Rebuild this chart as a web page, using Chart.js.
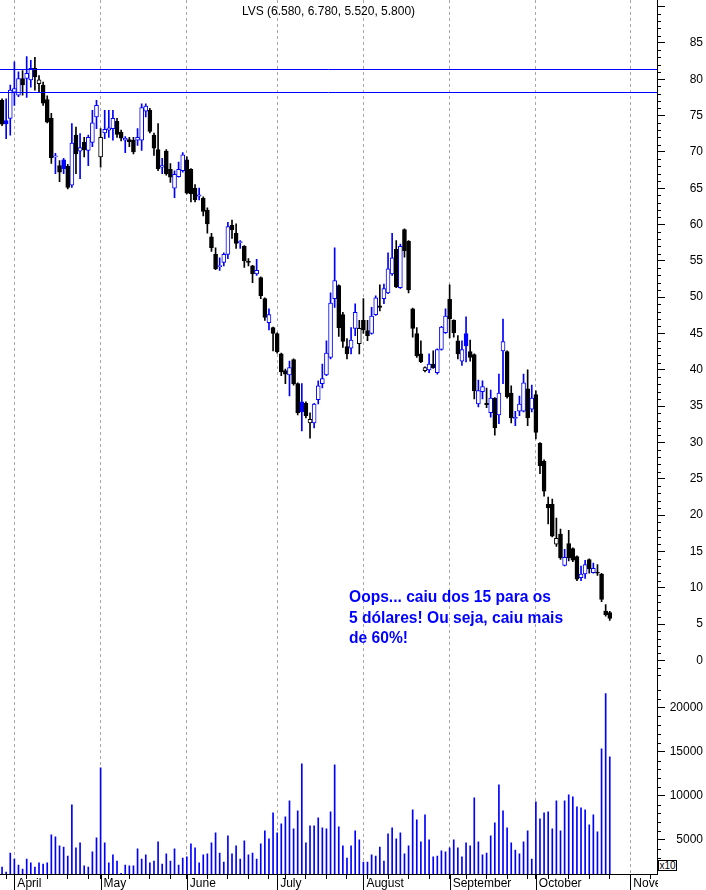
<!DOCTYPE html>
<html lang="pt">
<head>
<meta charset="utf-8">
<title>LVS</title>
<script src="https://cdn.jsdelivr.net/npm/chart.js@4.4.1/dist/chart.umd.min.js"></script>
<style>
  html, body { margin: 0; padding: 0; background: #fff; }
  #quadro { position: relative; width: 706px; height: 890px; overflow: hidden; }
  #grafico { position: absolute; left: 0; top: 0; }
  #titulo { position: absolute; left: 0; top: 4px; width: 657px; text-align: center;
            font: 12px/14px "Liberation Sans", Arial, sans-serif; color: #000; }
  #nota { position: absolute; left: 349px; top: 587px; color: #0000ff;
          font: bold 15.6px/20.5px "Liberation Sans", Arial, sans-serif; white-space: nowrap; }
  #escala { position: absolute; left: 658px; top: 860px; width: 19px; height: 11px; box-sizing: border-box;
            border: 1px solid #000; background: #fff; text-align: center;
            font: 10px/9px "Liberation Sans", Arial, sans-serif; color: #000; }
</style>
</head>
<body>
<div id="quadro">
  <canvas id="grafico" width="706" height="890"></canvas>
  <div id="titulo">LVS (6.580, 6.780, 5.520, 5.800)</div>
  <div id="nota">Oops... caiu dos 15 para os<br>5 dólares! Ou seja, caiu mais<br>de 60%!</div>
  <div id="escala">x10</div>
</div>
<script>
// ============================================
// Dados do gráfico (LVS, mar–out 2008)
// ============================================

// pregões de cada mês (o eixo continua até o começo de novembro)
const diasNegociacao = [
  ['2008-03', [28, 31]],
  ['2008-04', [1, 2, 3, 4, 7, 8, 9, 10, 11, 14, 15, 16, 17, 18, 21, 22, 23, 24, 25, 28, 29, 30]],
  ['2008-05', [1, 2, 5, 6, 7, 8, 9, 12, 13, 14, 15, 16, 19, 20, 21, 22, 23, 27, 28, 29, 30]],
  ['2008-06', [2, 3, 4, 5, 6, 9, 10, 11, 12, 13, 16, 17, 18, 19, 20, 23, 24, 25, 26, 27, 30]],
  ['2008-07', [1, 2, 3, 7, 8, 9, 10, 11, 14, 15, 16, 17, 18, 21, 22, 23, 24, 25, 28, 29, 30, 31]],
  ['2008-08', [1, 4, 5, 6, 7, 8, 11, 12, 13, 14, 15, 18, 19, 20, 21, 22, 25, 26, 27, 28, 29]],
  ['2008-09', [2, 3, 4, 5, 8, 9, 10, 11, 12, 15, 16, 17, 18, 19, 22, 23, 24, 25, 26, 29, 30]],
  ['2008-10', [1, 2, 3, 6, 7, 8, 9, 10, 13, 14, 15, 16, 17, 20, 21, 22, 23, 24, 27, 28, 29, 30, 31]],
  ['2008-11', [3, 4, 5, 6, 7, 10, 11]]
];

const meses = ['April', 'May', 'June', 'July', 'August', 'September', 'October', 'November'];
const linhasMes = ['2008-04-02', '2008-05-01', '2008-06-02', '2008-07-02',
                   '2008-08-01', '2008-09-02', '2008-10-01', '2008-11-03'];

const abertura = [
  77.1, 74.3, 74.6, 78.2, 77.8, 80.1, 80.1, 79.9, 81.5, 79.4,
  79.2, 77.2, 74.6, 69.3, 68.1, 68.9, 68.0, 65.4, 72.3, 70.1,
  71.3, 70.2, 71.3, 74.8, 69.3, 72.6, 73.0, 73.2, 74.2, 72.7,
  71.6, 71.7, 71.6, 71.6, 71.6, 75.6, 75.7, 72.3, 70.3, 67.9,
  70.1, 67.6, 65.0, 66.6, 67.4, 68.9, 67.6, 65.0, 63.9, 63.6,
  62.0, 58.3, 55.9, 54.2, 54.8, 55.9, 59.9, 58.8, 57.5, 57.0,
  54.9, 54.3, 53.2, 52.7, 49.8, 46.5, 45.8, 45.0, 42.2, 39.9,
  39.3, 41.4, 38.1, 35.6, 35.4, 32.7, 32.7, 35.9, 38.1, 39.3,
  41.7, 49.8, 51.6, 47.6, 43.2, 43.0, 45.7, 43.6, 46.8, 45.4,
  45.0, 47.6, 48.8, 49.8, 50.6, 53.2, 56.6, 51.3, 59.3, 57.7,
  48.4, 45.0, 42.2, 39.9, 40.0, 40.8, 39.6, 42.8, 45.1, 49.7,
  46.8, 44.0, 41.2, 45.0, 42.5, 42.1, 35.3, 37.0, 35.4, 34.1,
  36.1, 33.8, 42.6, 42.5, 36.8, 33.3, 34.3, 34.3, 37.4, 34.6,
  36.6, 29.9, 27.4, 21.5, 21.5, 16.0, 17.4, 13.1, 16.1, 15.4,
  14.3, 11.4, 11.9, 13.9, 12.1, 12.1, 11.9, 6.8, 6.58
];
const maxima = [
  77.3, 77.3, 79.2, 82.4, 81.0, 81.2, 83.1, 82.6, 83.0, 80.5,
  79.6, 77.7, 75.3, 69.8, 68.8, 69.1, 68.3, 73.9, 73.4, 72.5,
  72.0, 72.3, 75.7, 77.1, 73.2, 75.7, 75.7, 75.7, 74.6, 73.0,
  72.1, 72.0, 72.0, 73.2, 76.6, 76.6, 76.0, 72.6, 73.9, 69.1,
  70.3, 68.4, 67.4, 68.6, 69.9, 69.3, 67.7, 65.5, 65.0, 63.8,
  62.3, 58.8, 56.8, 55.4, 56.1, 60.3, 60.6, 60.1, 57.8, 57.1,
  55.3, 54.4, 55.2, 52.8, 49.9, 48.4, 45.9, 45.1, 42.3, 40.1,
  41.2, 41.5, 38.2, 38.1, 35.6, 34.1, 35.4, 38.5, 40.8, 44.0,
  50.6, 56.8, 51.7, 47.9, 44.3, 45.8, 49.1, 46.8, 49.8, 46.8,
  48.6, 50.2, 51.7, 51.8, 56.1, 58.8, 57.8, 57.3, 59.4, 57.8,
  48.5, 45.8, 44.0, 40.4, 42.2, 42.6, 42.9, 46.0, 48.4, 51.7,
  46.9, 44.7, 44.0, 47.3, 44.1, 42.2, 38.6, 38.5, 37.5, 37.2,
  36.2, 39.4, 47.0, 42.6, 37.8, 34.3, 36.4, 39.4, 40.0, 37.9,
  37.1, 30.0, 27.6, 22.5, 22.2, 19.6, 18.1, 15.3, 17.9, 15.5,
  14.4, 13.0, 13.8, 14.0, 13.4, 13.2, 12.0, 7.7, 6.78
];
const minima = [
  73.6, 71.8, 72.3, 76.4, 77.6, 77.8, 77.5, 78.9, 78.5, 78.3,
  76.4, 74.0, 68.4, 67.0, 65.9, 67.0, 64.9, 65.1, 67.0, 66.3,
  69.3, 68.1, 70.7, 73.2, 67.9, 71.8, 72.0, 71.6, 72.0, 71.5,
  69.9, 70.7, 69.7, 70.9, 70.2, 74.8, 72.6, 69.5, 67.4, 67.0,
  66.8, 65.8, 63.7, 66.5, 67.2, 64.2, 63.1, 63.1, 63.4, 61.2,
  58.8, 56.3, 53.8, 53.7, 54.3, 55.3, 58.1, 56.7, 56.7, 54.1,
  54.3, 52.0, 53.0, 49.8, 46.8, 45.5, 42.6, 42.3, 39.2, 38.1,
  36.4, 37.9, 33.8, 31.6, 33.4, 30.6, 32.0, 35.3, 37.5, 39.2,
  41.5, 48.6, 44.6, 43.1, 41.5, 42.2, 44.7, 42.2, 45.0, 44.0,
  44.9, 47.5, 48.1, 49.1, 50.5, 53.0, 51.3, 51.2, 55.5, 50.6,
  44.5, 41.7, 41.0, 39.7, 39.6, 40.2, 39.4, 42.7, 45.0, 44.4,
  44.5, 41.5, 40.6, 41.1, 41.2, 36.0, 34.9, 36.0, 34.8, 33.5,
  31.0, 32.6, 38.1, 36.1, 32.7, 32.3, 33.7, 34.2, 32.3, 34.2,
  30.5, 25.7, 22.6, 18.8, 17.0, 15.7, 13.9, 13.0, 13.7, 13.6,
  11.0, 11.0, 11.3, 12.0, 12.0, 11.7, 8.1, 6.1, 5.52
];
const fechamento = [
  73.8, 73.85, 78.5, 78.7, 80.1, 79.2, 80.8, 81.5, 80.3, 79.9,
  76.7, 74.1, 69.2, 69.4, 67.2, 67.7, 65.1, 71.2, 69.7, 70.6,
  70.3, 72.0, 74.0, 76.4, 72.0, 73.1, 73.3, 74.6, 72.4, 71.9,
  71.9, 71.4, 70.0, 72.0, 76.1, 76.3, 72.8, 70.5, 67.7, 68.1,
  67.0, 66.5, 66.9, 67.6, 69.6, 64.3, 64.2, 63.4, 64.1, 61.8,
  60.1, 56.8, 53.9, 54.3, 55.9, 59.7, 59.3, 57.4, 57.6, 55.0,
  54.8, 53.2, 53.7, 50.2, 47.2, 47.6, 45.0, 42.5, 39.7, 39.4,
  40.3, 38.1, 34.1, 34.2, 33.7, 33.2, 35.3, 37.8, 38.8, 42.3,
  49.2, 52.3, 45.8, 43.9, 42.2, 44.1, 47.9, 45.7, 45.5, 44.7,
  47.4, 49.9, 48.6, 51.2, 53.9, 55.4, 51.4, 57.0, 56.4, 51.0,
  45.7, 41.9, 41.1, 40.3, 40.8, 40.3, 42.8, 45.9, 47.4, 47.0,
  45.1, 42.2, 42.8, 43.3, 41.7, 37.1, 37.15, 37.7, 35.2, 36.1,
  32.0, 36.8, 43.9, 36.3, 33.4, 33.45, 35.3, 38.2, 33.4, 36.1,
  31.4, 26.8, 23.3, 21.0, 17.1, 16.8, 14.1, 14.2, 14.1, 13.8,
  11.2, 11.9, 13.2, 12.6, 12.7, 12.0, 8.4, 6.3, 5.80
];
// volume (em x10)
const volume = [
  1930, 1360, 3520, 2840, 2160, 1700, 2840, 2390, 1930, 2390,
  2270, 2390, 5570, 5340, 4320, 4200, 3180, 8980, 4090, 4660,
  2050, 1930, 3640, 5230, 13180, 4660, 2390, 3300, 2610, 1200,
  2160, 2050, 2050, 3980, 2840, 3300, 2390, 2610, 4770, 2270,
  3410, 2610, 3980, 2160, 2950, 3070, 4550, 4090, 2390, 3300,
  3410, 4660, 5800, 3520, 2500, 5450, 3410, 4320, 2840, 4890,
  3300, 3520, 2840, 4550, 6020, 5110, 8070, 5800, 6820, 7610,
  9430, 6250, 8300, 13640, 4660, 6590, 6590, 7500, 6360, 6250,
  8180, 13520, 6480, 4320, 2950, 4320, 6020, 5000, 2500, 2500,
  3300, 3180, 4200, 2610, 5680, 6360, 5110, 5800, 3410, 4320,
  8410, 7270, 4770, 7840, 5000, 3070, 3180, 3750, 3640, 4090,
  5000, 4090, 3070, 4660, 4320, 9770, 4770, 3300, 3520, 5450,
  6930, 11250, 8300, 6360, 4660, 3860, 3410, 4770, 6020, 2840,
  9320, 7390, 8070, 8180, 6250, 9430, 6020, 9430, 10110, 9890,
  8750, 8640, 8410, 6700, 7840, 5910, 15340, 21590, 14430
];

const niveis = [81.4, 78.2];                       // linhas horizontais azuis
const precoTicks = [0, 5, 10, 15, 20, 25, 30, 35, 40, 45, 50, 55, 60, 65, 70, 75, 80, 85, 90];
const volumeTicks = [5000, 10000, 15000, 20000];

// ============================================
// Montagem
// ============================================
const AZUL = '#0000ff';
const PRETO = '#000000';
const FONTE = '"Liberation Sans", Arial, sans-serif';

const categorias = [];
diasNegociacao.forEach(([mes, dias]) => dias.forEach(d => categorias.push(mes + '-' + String(d).padStart(2, '0'))));

const idxMes = linhasMes.map(d => categorias.indexOf(d));

// primeiro pregão de cada semana recebe uma marquinha no eixo
const diaSemana = categorias.map(c => { const [a, m, d] = c.split('-').map(Number); return new Date(a, m - 1, d).getDay(); });
const inicioSemana = diaSemana.map((w, i) => i > 0 && w < diaSemana[i - 1]);

// cor: azul se fechou acima do fechamento anterior; vazado se fechou acima da abertura
const corVela = fechamento.map((c, i) => c >= (i ? fechamento[i - 1] : abertura[i]) ? AZUL : PRETO);
const vazado = fechamento.map((c, i) => c >= abertura[i]);

const corpos = fechamento.map((c, i) => {
  const lo = Math.min(abertura[i], c);
  const hi = Math.max(abertura[i], c);
  return [lo, Math.max(hi, lo + 0.15)];
});
const pavios = minima.map((l, i) => [l, maxima[i]]);

const extras = {
  id: 'extras',
  afterDatasetsDraw(chart) {
    const { ctx, chartArea, scales: { y } } = chart;
    ctx.save();
    ctx.strokeStyle = AZUL;
    ctx.lineWidth = 1;
    ctx.beginPath();
    niveis.forEach(v => {
      const py = Math.round(y.getPixelForValue(v)) + 0.5;
      ctx.moveTo(chartArea.left, py);
      ctx.lineTo(chartArea.right, py);
    });
    ctx.stroke();
    ctx.restore();
  },
  afterDraw(chart) {
    const { ctx, scales: { x, y, yv } } = chart;
    ctx.save();
    // o rótulo "November" fica cortado na borda do gráfico
    ctx.fillStyle = '#fff';
    ctx.fillRect(x.right + 1, x.top + 1, chart.width - x.right, chart.height - x.top);
    ctx.strokeStyle = PRETO;
    ctx.lineWidth = 1;
    ctx.beginPath();
    for (let v = -2; v <= 90; v++) {
      if (v % 5 === 0) continue;
      const py = Math.round(y.getPixelForValue(v)) + 0.5;
      ctx.moveTo(y.left, py); ctx.lineTo(y.left + 4, py);
    }
    for (let v = 2000; v <= 22000; v += 1000) {
      if (v % 5000 === 0) continue;
      const py = Math.round(yv.getPixelForValue(v)) + 0.5;
      ctx.moveTo(yv.left, py); ctx.lineTo(yv.left + 4, py);
    }
    idxMes.forEach(i => {
      const px = Math.round(x.getPixelForValue(i)) + 0.5;
      ctx.moveTo(px, x.top); ctx.lineTo(px, chart.height);
    });
    ctx.stroke();
    ctx.restore();
  }
};

Chart.defaults.font.family = FONTE;
Chart.defaults.color = PRETO;

new Chart(document.getElementById('grafico'), {
  type: 'bar',
  data: {
    labels: categorias,
    datasets: [
      {
        label: 'corpo',
        data: corpos,
        yAxisID: 'y',
        grouped: false,
        order: 1,
        barThickness: 4,
        borderWidth: 1,
        borderSkipped: false,
        borderColor: corVela,
        backgroundColor: corVela.map((c, i) => vazado[i] ? '#ffffff' : c)
      },
      {
        label: 'pavio',
        data: pavios,
        yAxisID: 'y',
        grouped: false,
        order: 2,
        barThickness: 1,
        borderWidth: 0,
        backgroundColor: corVela
      },
      {
        label: 'volume',
        data: volume,
        yAxisID: 'yv',
        grouped: false,
        order: 3,
        barThickness: 1,
        borderWidth: 0,
        backgroundColor: AZUL
      }
    ]
  },
  options: {
    responsive: false,
    animation: false,
    events: [],
    layout: { padding: { left: 0, top: 0, bottom: 0, right: 3 } },
    plugins: { legend: { display: false }, tooltip: { enabled: false }, title: { display: false } },
    scales: {
      x: {
        type: 'category',
        offset: true,
        grid: {
          offset: false,
          drawOnChartArea: true,
          lineWidth: 1,
          tickLength: 5,
          color: ctx => idxMes.includes(ctx.index) ? '#a8a8a8' : 'rgba(0,0,0,0)',
          tickColor: ctx => (inicioSemana[ctx.index] || idxMes.includes(ctx.index)) ? PRETO : 'rgba(0,0,0,0)'
        },
        border: { display: true, color: PRETO, width: 1, dash: [3, 3] },
        ticks: {
          autoSkip: false,
          maxRotation: 0,
          minRotation: 0,
          align: 'start',
          labelOffset: 3,
          padding: -1,
          color: PRETO,
          font: { size: 12, lineHeight: 1 },
          callback: (v, i) => { const m = idxMes.indexOf(i); return m >= 0 ? meses[m] : ''; }
        },
        afterFit: s => { s.height = 16; s.paddingLeft = 0; s.paddingRight = 0; }
      },
      y: {
        type: 'linear',
        position: 'right',
        stack: 'painel',
        stackWeight: 680,
        min: -2.9,
        max: 90.9,
        grid: { drawOnChartArea: false, tickLength: 8, tickColor: PRETO },
        border: { display: true, color: PRETO },
        afterBuildTicks: s => { s.ticks = precoTicks.map(v => ({ value: v })); },
        ticks: {
          crossAlign: 'far',
          padding: 2,
          color: PRETO,
          font: { size: 12 },
          callback: v => v <= 85 ? String(v) : ''
        },
        afterFit: s => { s.width = 46; s.paddingTop = 0; s.paddingBottom = 0; }
      },
      yv: {
        type: 'linear',
        position: 'right',
        stack: 'painel',
        stackWeight: 192,
        min: 1136,
        max: 22954,
        grid: { drawOnChartArea: false, tickLength: 8, tickColor: PRETO },
        border: { display: true, color: PRETO },
        afterBuildTicks: s => { s.ticks = volumeTicks.map(v => ({ value: v })); },
        ticks: {
          crossAlign: 'far',
          padding: 2,
          color: PRETO,
          font: { size: 12 },
          callback: v => String(v)
        },
        afterFit: s => { s.width = 46; s.paddingTop = 0; s.paddingBottom = 0; }
      }
    }
  },
  plugins: [extras]
});
</script>
</body>
</html>
